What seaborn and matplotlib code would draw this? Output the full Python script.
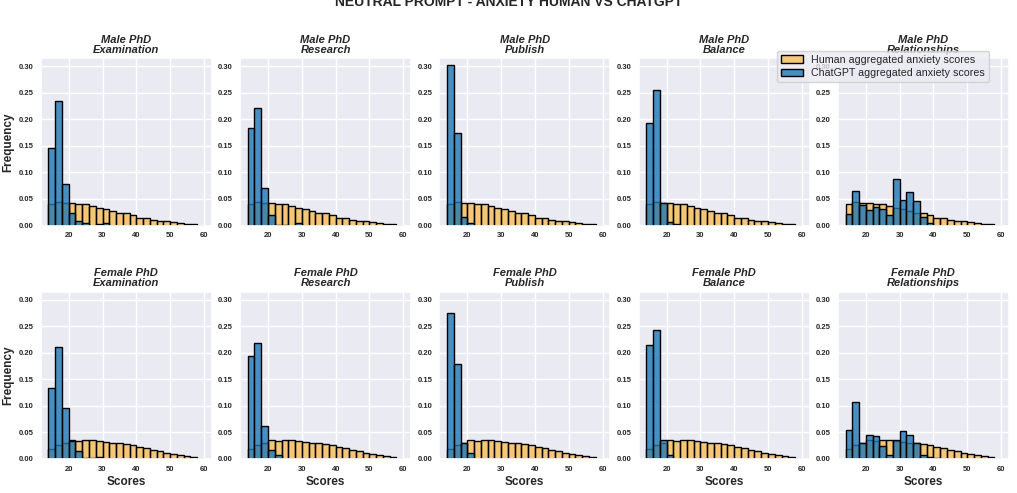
import seaborn as sns
import matplotlib.pyplot as plt
import numpy as np

sns.set_theme(style="darkgrid")
plt.rcParams["font.family"] = ["Liberation Sans", "DejaVu Sans"]

# bins of width 2 from 14 to 60
bin_edges = list(range(14, 62, 2))
bin_centers = [e + 1 for e in bin_edges[:-1]]

topics = ["Examination", "Research", "Publish", "Balance", "Relationships"]
genders = ["Male PhD", "Female PhD"]

# human aggregated anxiety scores (same for every topic of a gender)
human_male = [0.041, 0.045, 0.043, 0.042, 0.040, 0.040, 0.037, 0.033, 0.031, 0.027, 0.023,
              0.023, 0.020, 0.0145, 0.0145, 0.011, 0.008, 0.008, 0.006, 0.0045, 0.002, 0.002, 0.0]
human_female = [0.018, 0.026, 0.030, 0.035, 0.033, 0.035, 0.035, 0.034, 0.032, 0.031, 0.030,
                0.028, 0.026, 0.023, 0.021, 0.017, 0.0145, 0.012, 0.0095, 0.0075, 0.005, 0.003, 0.0]

# ChatGPT aggregated anxiety scores
gpt_male_exam = [0.145, 0.235, 0.078, 0.023, 0.008, 0.004, 0.0, 0.002, 0.004, 0, 0, 0, 0, 0, 0, 0, 0, 0, 0, 0, 0, 0, 0]
gpt_male_research = [0.184, 0.221, 0.070, 0.020, 0.001, 0.001, 0.0, 0.004, 0, 0, 0, 0, 0, 0, 0, 0, 0, 0, 0, 0, 0, 0, 0]
gpt_male_publish = [0.302, 0.174, 0.016, 0.005, 0, 0, 0, 0, 0, 0, 0, 0, 0, 0, 0, 0, 0, 0, 0, 0, 0, 0, 0]
gpt_male_balance = [0.193, 0.255, 0.043, 0.007, 0.003, 0, 0, 0, 0, 0, 0, 0, 0, 0, 0, 0, 0, 0, 0, 0, 0, 0, 0]
gpt_male_relationships = [0.021, 0.065, 0.039, 0.029, 0.035, 0.031, 0.020, 0.087, 0.048, 0.064, 0.047,
                          0.016, 0.004, 0, 0, 0, 0, 0, 0, 0, 0, 0, 0]
gpt_female_exam = [0.133, 0.211, 0.096, 0.034, 0.0145, 0.001, 0.001, 0.004, 0, 0, 0, 0, 0, 0, 0, 0, 0, 0, 0, 0, 0, 0, 0]
gpt_female_research = [0.193, 0.219, 0.062, 0.016, 0.0075, 0, 0, 0, 0, 0, 0, 0, 0, 0, 0, 0, 0, 0, 0, 0, 0, 0, 0]
gpt_female_publish = [0.274, 0.179, 0.031, 0.011, 0, 0, 0, 0, 0, 0, 0, 0, 0, 0, 0, 0, 0, 0, 0, 0, 0, 0, 0]
gpt_female_balance = [0.215, 0.242, 0.035, 0.0075, 0, 0, 0, 0, 0, 0, 0, 0, 0, 0, 0, 0, 0, 0, 0, 0, 0, 0, 0]
gpt_female_relationships = [0.054, 0.107, 0.031, 0.046, 0.043, 0.025, 0.007, 0.036, 0.052, 0.045, 0.030,
                            0.007, 0.004, 0.001, 0, 0, 0, 0, 0, 0, 0, 0, 0]

gpt = [
    [gpt_male_exam, gpt_male_research, gpt_male_publish, gpt_male_balance, gpt_male_relationships],
    [gpt_female_exam, gpt_female_research, gpt_female_publish, gpt_female_balance, gpt_female_relationships],
]
human = [human_male, human_female]

fig, axes = plt.subplots(2, 5, figsize=(10.17, 4.93), dpi=100)
fig.subplots_adjust(left=0.040, right=0.992, top=0.882, bottom=0.069, wspace=0.165, hspace=0.395)

for r in range(2):
    for c in range(5):
        ax = axes[r, c]
        sns.histplot(x=bin_centers, weights=human[r], bins=bin_edges, color="orange", alpha=0.5,
                     edgecolor="black", linewidth=1, ax=ax, label="Human aggregated anxiety scores")
        sns.histplot(x=bin_centers, weights=gpt[r][c], bins=bin_edges, color="tab:blue", alpha=0.8,
                     edgecolor="black", linewidth=1, ax=ax, label="ChatGPT aggregated anxiety scores")
        ax.set_ylim(0, 0.315)
        ax.set_yticks(np.arange(0, 0.31, 0.05))
        ax.set_title(f"{genders[r]}\n{topics[c]}", fontsize=8, fontweight="bold", fontstyle="italic",
                     pad=4, linespacing=1.0)
        ax.tick_params(axis="both", labelsize=5.5, length=0, pad=5)
        for lab in ax.get_xticklabels() + ax.get_yticklabels():
            lab.set_fontweight("bold")
        ax.set_ylabel("Frequency" if c == 0 else "", fontsize=8.5, fontweight="bold", labelpad=3)
        ax.set_xlabel("Scores" if r == 1 else "", fontsize=8.5, fontweight="bold", labelpad=2)

handles, labels = axes[0, 0].get_legend_handles_labels()
fig.legend(handles, labels, loc="upper right", bbox_to_anchor=(0.978, 0.908), fontsize=7.7,
           handlelength=2, borderpad=0.4, labelspacing=0.3)

fig.suptitle("NEUTRAL PROMPT - ANXIETY HUMAN VS CHATGPT", fontsize=10, fontweight="bold",
             y=0.988, va="baseline")

plt.savefig("out.png", dpi=100)
